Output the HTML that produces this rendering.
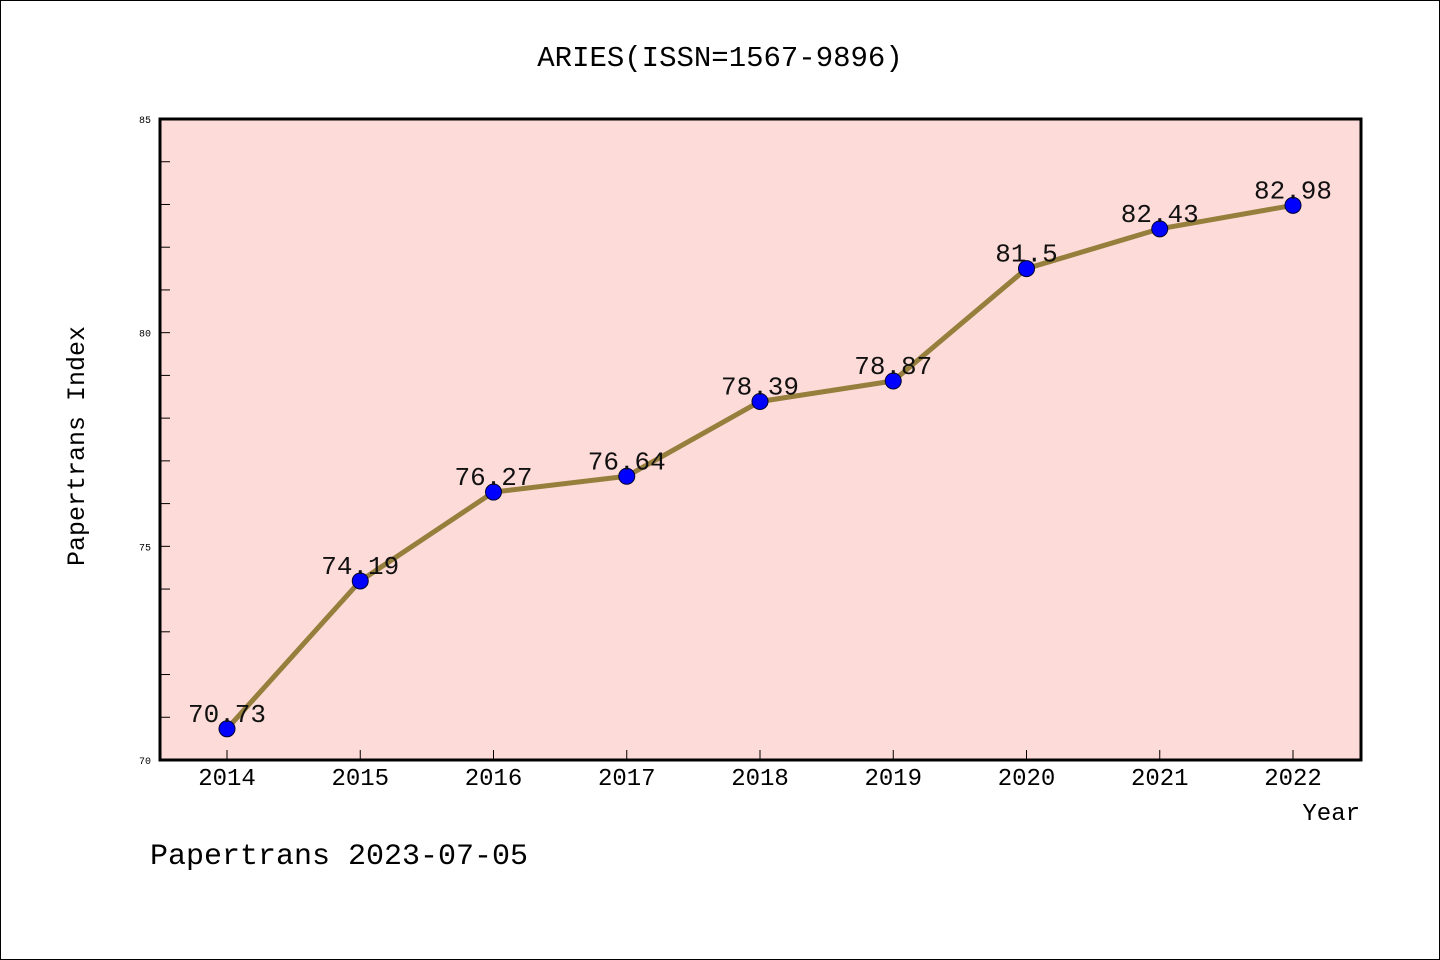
<!DOCTYPE html>
<html><head><meta charset="utf-8"><style>
body{margin:0;background:#fff}
svg{display:block;font-family:"Liberation Mono","DejaVu Sans Mono",monospace}
</style></head><body>
<svg id="chart" width="1440" height="960" xmlns="http://www.w3.org/2000/svg">
<rect x="0.5" y="0.5" width="1439" height="959" fill="#fff" stroke="#000"/>
<text x="720" y="66" font-size="29" text-anchor="middle">ARIES(ISSN=1567-9896)</text>
<rect x="160" y="119" width="1201" height="641" fill="#fddbd8"/>
<g id="ticks"></g>
<g id="series"></g>
<rect x="160" y="119" width="1201" height="641" fill="none" stroke="#000" stroke-width="3"/>
<text x="84" y="446" font-size="25" text-anchor="middle" transform="rotate(-90 84 446)">Papertrans Index</text>
<text x="1360" y="820" font-size="24" text-anchor="end">Year</text>
<text x="150" y="864" font-size="30">Papertrans 2023-07-05</text>
</svg>
<script>
const years=["2014","2015","2016","2017","2018","2019","2020","2021","2022"];
const values=[70.73,74.19,76.27,76.64,78.39,78.87,81.5,82.43,82.98];
const labels=["70.73","74.19","76.27","76.64","78.39","78.87","81.5","82.43","82.98"];
const yTicks=[70,75,80,85];
const NS="http://www.w3.org/2000/svg";
const x=i=>227+i*133.25;
const y=v=>760-(v-70)*(641/15);
function mk(t,a,p){const e=document.createElementNS(NS,t);for(const k in a)e.setAttribute(k,a[k]);p.appendChild(e);return e;}
const tg=document.getElementById('ticks'),sg=document.getElementById('series');
for(let v=70;v<=85;v++){const l=mk('line',{x1:160,x2:170,y1:y(v),y2:y(v),stroke:'#000','stroke-width':1},tg);

}
yTicks.forEach(v=>{const t=mk('text',{x:151,y:y(v)+4,'font-size':10,'text-anchor':'end'},tg);t.textContent=v;

});
years.forEach((yr,i)=>{const l=mk('line',{x1:x(i),x2:x(i),y1:750,y2:760,stroke:'#000','stroke-width':1},tg);


const t=mk('text',{x:x(i),y:785,'font-size':24,'text-anchor':'middle'},tg);t.textContent=yr;

});
const pl=mk('polyline',{points:values.map((v,i)=>x(i)+','+y(v)).join(' '),fill:'none',stroke:'#967f3c','stroke-width':5,'stroke-linejoin':'round'},sg);


values.forEach((v,i)=>{const c=mk('circle',{cx:x(i),cy:y(v),r:8,fill:'#0000ff',stroke:'#000033','stroke-width':1},sg);

});
values.forEach((v,i)=>{const t=mk('text',{x:x(i),y:y(v)-7,'font-size':26,'text-anchor':'middle',fill:'#111'},sg);t.textContent=labels[i];

});
</script>
</body></html>
